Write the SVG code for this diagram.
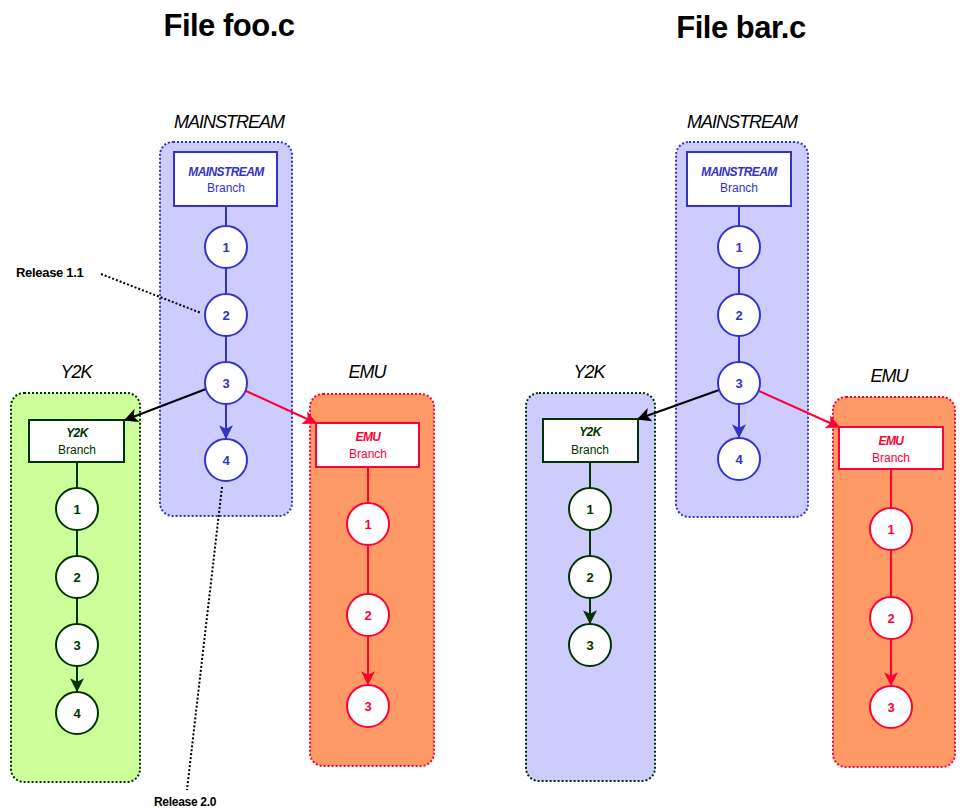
<svg xmlns="http://www.w3.org/2000/svg" width="960" height="812" viewBox="0 0 960 812">
<defs>
<marker id="ab" viewBox="0 0 12 12" refX="11" refY="6" markerWidth="14" markerHeight="14" markerUnits="userSpaceOnUse" orient="auto"><path d="M0,0 L12,6 L0,12 L3,6 Z" fill="#3333cc"/></marker>
<marker id="ag" viewBox="0 0 12 12" refX="11" refY="6" markerWidth="14" markerHeight="14" markerUnits="userSpaceOnUse" orient="auto"><path d="M0,0 L12,6 L0,12 L3,6 Z" fill="#003300"/></marker>
<marker id="ar" viewBox="0 0 12 12" refX="11" refY="6" markerWidth="14" markerHeight="14" markerUnits="userSpaceOnUse" orient="auto"><path d="M0,0 L12,6 L0,12 L3,6 Z" fill="#ff0033"/></marker>
<marker id="ak" viewBox="0 0 12 12" refX="11" refY="6" markerWidth="14" markerHeight="14" markerUnits="userSpaceOnUse" orient="auto"><path d="M0,0 L12,6 L0,12 L3,6 Z" fill="#000"/></marker>
</defs>
<style>
text{font-family:"Liberation Sans",Arial,sans-serif;text-anchor:middle}
.title{font-size:31px;font-weight:bold;fill:#000;letter-spacing:-0.5px}
.lab{font-size:18px;font-style:italic;fill:#000;letter-spacing:-1px}
.rel{font-size:12px;font-weight:bold;fill:#000;text-anchor:start;letter-spacing:-0.3px}
.cont{stroke-width:2;stroke-dasharray:2,2}
.blue{fill:#ccccff;stroke:#3333cc}
.green{fill:#ccff99;stroke:#003300}
.greenb{fill:#ccccff;stroke:#003300}
.org{fill:#ff9966;stroke:#ff0033}
.box{fill:#fff;stroke-width:2}
.bt{font-size:12px;font-weight:bold;font-style:italic;letter-spacing:-0.6px}
.br{font-size:12px}
.c{fill:#fff;stroke-width:2}
.n{font-size:13px;font-weight:bold}
.l{stroke-width:2;fill:none}
.dot{stroke:#000;stroke-width:2;stroke-dasharray:2,2;fill:none}
</style>
<text class="title" x="229" y="36">File foo.c</text>
<text class="title" x="741" y="38">File bar.c</text>
<text class="lab" x="229" y="128">MAINSTREAM</text>
<text class="lab" x="742" y="128">MAINSTREAM</text>
<text class="lab" x="76" y="378">Y2K</text>
<text class="lab" x="589" y="378">Y2K</text>
<text class="lab" x="367" y="378">EMU</text>
<text class="lab" x="889" y="382">EMU</text>
<text class="rel" x="16" y="277" style="font-size:13px">Release 1.1</text>
<text class="rel" x="154" y="806">Release 2.0</text>

<g id="containers">
<rect class="cont blue" x="160" y="142" width="132" height="374" rx="13"/>
<rect class="cont green" x="11" y="393" width="129" height="389" rx="13"/>
<rect class="cont org" x="310" y="394" width="124" height="372" rx="13"/>
<rect class="cont blue" x="676" y="142" width="132" height="375" rx="13"/>
<rect class="cont greenb" x="526" y="393" width="129" height="388" rx="13"/>
<rect class="cont org" x="833" y="397" width="122" height="370" rx="13"/>
</g>

<g id="connectors">
<line class="l" stroke="#3333cc" x1="226" y1="206" x2="226" y2="226"/>
<line class="l" stroke="#3333cc" x1="226" y1="268" x2="226" y2="294"/>
<line class="l" stroke="#3333cc" x1="226" y1="336" x2="226" y2="362"/>
<line class="l" stroke="#3333cc" x1="226" y1="404" x2="226" y2="438" marker-end="url(#ab)"/>
<line class="l" stroke="#003300" x1="77" y1="462" x2="77" y2="488"/>
<line class="l" stroke="#003300" x1="77" y1="530" x2="77" y2="556"/>
<line class="l" stroke="#003300" x1="77" y1="598" x2="77" y2="624"/>
<line class="l" stroke="#003300" x1="77" y1="666" x2="77" y2="691" marker-end="url(#ag)"/>
<line class="l" stroke="#ff0033" x1="368" y1="467" x2="368" y2="503"/>
<line class="l" stroke="#ff0033" x1="368" y1="545" x2="368" y2="594"/>
<line class="l" stroke="#ff0033" x1="368" y1="636" x2="368" y2="684" marker-end="url(#ar)"/>
<line class="l" stroke="#000" x1="206" y1="389" x2="125" y2="420" marker-end="url(#ak)"/>
<line class="l" stroke="#ff0033" x1="246" y1="391" x2="316" y2="423" marker-end="url(#ar)"/>
<path class="dot" d="M101,274 L201,313"/>
<path class="dot" d="M222,487 L187,790"/>

<line class="l" stroke="#3333cc" x1="739" y1="206" x2="739" y2="226"/>
<line class="l" stroke="#3333cc" x1="739" y1="268" x2="739" y2="294"/>
<line class="l" stroke="#3333cc" x1="739" y1="336" x2="739" y2="362"/>
<line class="l" stroke="#3333cc" x1="739" y1="404" x2="739" y2="437" marker-end="url(#ab)"/>
<line class="l" stroke="#003300" x1="590" y1="462" x2="590" y2="488"/>
<line class="l" stroke="#003300" x1="590" y1="530" x2="590" y2="556"/>
<line class="l" stroke="#003300" x1="590" y1="598" x2="590" y2="623" marker-end="url(#ag)"/>
<line class="l" stroke="#ff0033" x1="891" y1="469" x2="891" y2="508"/>
<line class="l" stroke="#ff0033" x1="891" y1="550" x2="891" y2="597"/>
<line class="l" stroke="#ff0033" x1="891" y1="639" x2="891" y2="685" marker-end="url(#ar)"/>
<line class="l" stroke="#000" x1="719" y1="390" x2="638" y2="419" marker-end="url(#ak)"/>
<line class="l" stroke="#ff0033" x1="759" y1="391" x2="839" y2="427" marker-end="url(#ar)"/>
</g>

<g id="foo-main-branch"><rect class="box" stroke="#3333cc" x="174" y="152" width="103" height="54"/><text class="bt" fill="#3333cc" x="226" y="176">MAINSTREAM</text><text class="br" fill="#3333cc" x="226" y="192">Branch</text></g>
<g id="foo-main-1"><circle class="c" stroke="#3333cc" cx="226" cy="247" r="21"/><text class="n" fill="#3333cc" x="226" y="252">1</text></g>
<g id="foo-main-2"><circle class="c" stroke="#3333cc" cx="226" cy="315" r="21"/><text class="n" fill="#3333cc" x="226" y="320">2</text></g>
<g id="foo-main-3"><circle class="c" stroke="#3333cc" cx="226" cy="383" r="21"/><text class="n" fill="#3333cc" x="226" y="388">3</text></g>
<g id="foo-main-4"><circle class="c" stroke="#3333cc" cx="226" cy="460" r="21"/><text class="n" fill="#3333cc" x="226" y="465">4</text></g>

<g id="foo-y2k-branch"><rect class="box" stroke="#003300" x="29" y="420" width="95" height="42"/><text class="bt" fill="#003300" x="77" y="437">Y2K</text><text class="br" fill="#003300" x="77" y="454">Branch</text></g>
<g id="foo-y2k-1"><circle class="c" stroke="#003300" cx="77" cy="509" r="21"/><text class="n" fill="#003300" x="77" y="514">1</text></g>
<g id="foo-y2k-2"><circle class="c" stroke="#003300" cx="77" cy="577" r="21"/><text class="n" fill="#003300" x="77" y="582">2</text></g>
<g id="foo-y2k-3"><circle class="c" stroke="#003300" cx="77" cy="645" r="21"/><text class="n" fill="#003300" x="77" y="650">3</text></g>
<g id="foo-y2k-4"><circle class="c" stroke="#003300" cx="77" cy="713" r="21"/><text class="n" fill="#003300" x="77" y="718">4</text></g>

<g id="foo-emu-branch"><rect class="box" stroke="#ff0033" x="316" y="423" width="103" height="44"/><text class="bt" fill="#ff0033" x="368" y="441">EMU</text><text class="br" fill="#ff0033" x="368" y="458">Branch</text></g>
<g id="foo-emu-1"><circle class="c" stroke="#ff0033" cx="368" cy="524" r="21"/><text class="n" fill="#ff0033" x="368" y="529">1</text></g>
<g id="foo-emu-2"><circle class="c" stroke="#ff0033" cx="368" cy="615" r="21"/><text class="n" fill="#ff0033" x="368" y="620">2</text></g>
<g id="foo-emu-3"><circle class="c" stroke="#ff0033" cx="368" cy="706" r="21"/><text class="n" fill="#ff0033" x="368" y="711">3</text></g>

<g id="bar-main-branch"><rect class="box" stroke="#3333cc" x="687" y="152" width="104" height="54"/><text class="bt" fill="#3333cc" x="739" y="176">MAINSTREAM</text><text class="br" fill="#3333cc" x="739" y="192">Branch</text></g>
<g id="bar-main-1"><circle class="c" stroke="#3333cc" cx="739" cy="247" r="21"/><text class="n" fill="#3333cc" x="739" y="252">1</text></g>
<g id="bar-main-2"><circle class="c" stroke="#3333cc" cx="739" cy="315" r="21"/><text class="n" fill="#3333cc" x="739" y="320">2</text></g>
<g id="bar-main-3"><circle class="c" stroke="#3333cc" cx="739" cy="383" r="21"/><text class="n" fill="#3333cc" x="739" y="388">3</text></g>
<g id="bar-main-4"><circle class="c" stroke="#3333cc" cx="739" cy="459" r="21"/><text class="n" fill="#3333cc" x="739" y="464">4</text></g>

<g id="bar-y2k-branch"><rect class="box" stroke="#003300" x="543" y="419" width="95" height="43"/><text class="bt" fill="#003300" x="590" y="436">Y2K</text><text class="br" fill="#003300" x="590" y="454">Branch</text></g>
<g id="bar-y2k-1"><circle class="c" stroke="#003300" cx="590" cy="509" r="21"/><text class="n" fill="#003300" x="590" y="514">1</text></g>
<g id="bar-y2k-2"><circle class="c" stroke="#003300" cx="590" cy="577" r="21"/><text class="n" fill="#003300" x="590" y="582">2</text></g>
<g id="bar-y2k-3"><circle class="c" stroke="#003300" cx="590" cy="645" r="21"/><text class="n" fill="#003300" x="590" y="650">3</text></g>

<g id="bar-emu-branch"><rect class="box" stroke="#ff0033" x="839" y="427" width="104" height="42"/><text class="bt" fill="#ff0033" x="891" y="445">EMU</text><text class="br" fill="#ff0033" x="891" y="462">Branch</text></g>
<g id="bar-emu-1"><circle class="c" stroke="#ff0033" cx="891" cy="529" r="21"/><text class="n" fill="#ff0033" x="891" y="534">1</text></g>
<g id="bar-emu-2"><circle class="c" stroke="#ff0033" cx="891" cy="618" r="21"/><text class="n" fill="#ff0033" x="891" y="623">2</text></g>
<g id="bar-emu-3"><circle class="c" stroke="#ff0033" cx="891" cy="707" r="21"/><text class="n" fill="#ff0033" x="891" y="712">3</text></g>
</svg>
